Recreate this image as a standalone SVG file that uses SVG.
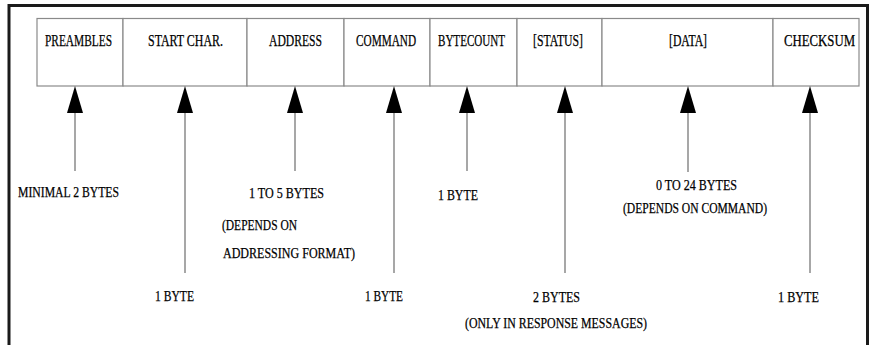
<svg xmlns="http://www.w3.org/2000/svg" xmlns:xlink="http://www.w3.org/1999/xlink" width="873" height="345" viewBox="0 0 873 345">
<style>
.frame{fill:none;stroke:#1a1a1a;stroke-width:3}
.box{fill:#fff;stroke:#8a8a8a;stroke-width:1.2}
.lbl{font-family:'Liberation Serif','Times New Roman',serif;font-size:16px;fill:#000;stroke:#000;stroke-width:0.25}
.t{font-family:'Liberation Serif','Times New Roman',serif;font-size:15px;fill:#000;stroke:#000;stroke-width:0.25}
.ln{stroke:#8a8a8a;stroke-width:1.5}
.ah{fill:#000}
</style>
<defs>
<path id="ah" d="M0,0 L8,27 L-8,27 Z"/>
</defs>
<rect width="873" height="345" fill="#fff"/>
<path class="frame" d="M9,345 V5.5 H867.5 V345"/>

<g id="preambles"><rect class="box" x="37" y="18.5" width="86" height="67.5"/><text class="lbl" x="45" y="45.5" textLength="67" lengthAdjust="spacingAndGlyphs">PREAMBLES</text></g>
<g id="startchar"><rect class="box" x="123" y="18.5" width="124" height="67.5"/><text class="lbl" x="148" y="45.5" textLength="75" lengthAdjust="spacingAndGlyphs">START CHAR.</text></g>
<g id="address"><rect class="box" x="247" y="18.5" width="97" height="67.5"/><text class="lbl" x="269" y="45.5" textLength="53" lengthAdjust="spacingAndGlyphs">ADDRESS</text></g>
<g id="command"><rect class="box" x="344" y="18.5" width="86" height="67.5"/><text class="lbl" x="356" y="45.5" textLength="60" lengthAdjust="spacingAndGlyphs">COMMAND</text></g>
<g id="bytecount"><rect class="box" x="430" y="18.5" width="87" height="67.5"/><text class="lbl" x="438" y="45.5" textLength="67" lengthAdjust="spacingAndGlyphs">BYTECOUNT</text></g>
<g id="status"><rect class="box" x="517" y="18.5" width="85" height="67.5"/><text class="lbl" x="533" y="45.5" textLength="50" lengthAdjust="spacingAndGlyphs">[STATUS]</text></g>
<g id="data"><rect class="box" x="602" y="18.5" width="171" height="67.5"/><text class="lbl" x="669" y="45.5" textLength="38" lengthAdjust="spacingAndGlyphs">[DATA]</text></g>
<g id="checksum"><rect class="box" x="773" y="18.5" width="86" height="67.5"/><text class="lbl" x="784" y="45.5" textLength="71" lengthAdjust="spacingAndGlyphs">CHECKSUM</text></g>

<g id="connectors">
<line class="ln" x1="75" y1="110" x2="75" y2="171"/>
<line class="ln" x1="185" y1="110" x2="185" y2="273"/>
<line class="ln" x1="295" y1="110" x2="295" y2="171"/>
<line class="ln" x1="394" y1="110" x2="394" y2="273"/>
<line class="ln" x1="467" y1="110" x2="467" y2="171"/>
<line class="ln" x1="565" y1="110" x2="565" y2="273"/>
<line class="ln" x1="688" y1="110" x2="688" y2="172"/>
<line class="ln" x1="810" y1="110" x2="810" y2="273"/>
<use class="ah" xlink:href="#ah" x="75" y="86"/>
<use class="ah" xlink:href="#ah" x="185" y="86"/>
<use class="ah" xlink:href="#ah" x="295" y="86"/>
<use class="ah" xlink:href="#ah" x="394" y="86"/>
<use class="ah" xlink:href="#ah" x="467" y="86"/>
<use class="ah" xlink:href="#ah" x="565" y="86"/>
<use class="ah" xlink:href="#ah" x="688" y="86"/>
<use class="ah" xlink:href="#ah" x="810" y="86"/>
</g>

<g id="labels">
<text class="t" x="18" y="197" textLength="101" lengthAdjust="spacingAndGlyphs">MINIMAL 2 BYTES</text>
<text class="t" x="249" y="198" textLength="75" lengthAdjust="spacingAndGlyphs">1 TO 5 BYTES</text>
<text class="t" x="222" y="230" textLength="75" lengthAdjust="spacingAndGlyphs">(DEPENDS ON</text>
<text class="t" x="223" y="258" textLength="132" lengthAdjust="spacingAndGlyphs">ADDRESSING FORMAT)</text>
<text class="t" x="155" y="301" textLength="39" lengthAdjust="spacingAndGlyphs">1 BYTE</text>
<text class="t" x="365" y="301" textLength="38" lengthAdjust="spacingAndGlyphs">1 BYTE</text>
<text class="t" x="438" y="200" textLength="40" lengthAdjust="spacingAndGlyphs">1 BYTE</text>
<text class="t" x="656" y="190" textLength="81" lengthAdjust="spacingAndGlyphs">0 TO 24 BYTES</text>
<text class="t" x="623" y="213" textLength="144" lengthAdjust="spacingAndGlyphs">(DEPENDS ON COMMAND)</text>
<text class="t" x="533" y="302" textLength="47" lengthAdjust="spacingAndGlyphs">2 BYTES</text>
<text class="t" x="465" y="328" textLength="182" lengthAdjust="spacingAndGlyphs">(ONLY IN RESPONSE MESSAGES)</text>
<text class="t" x="778" y="302" textLength="41" lengthAdjust="spacingAndGlyphs">1 BYTE</text>
</g>
</svg>
